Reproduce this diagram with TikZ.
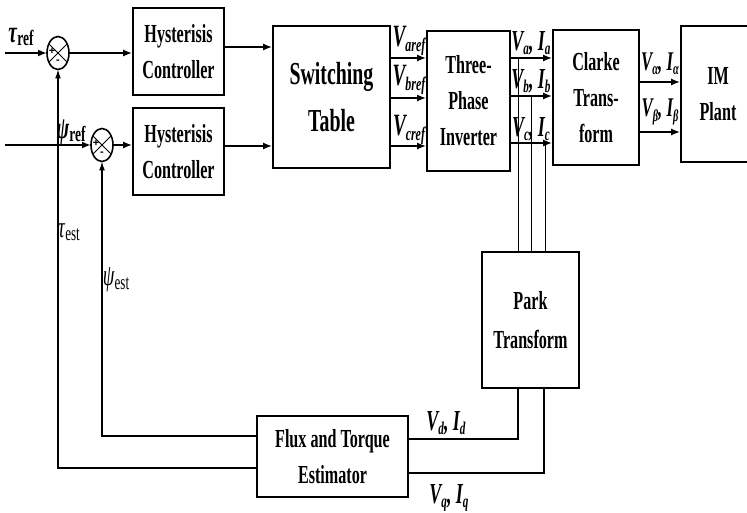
\documentclass[tikz,border=0pt]{standalone}
\usepackage{fontspec}
\usepackage{graphicx}
\setmainfont{Liberation Serif}[FakeStretch=0.62]
\newfontfamily\signfont{Liberation Sans}
\usetikzlibrary{arrows.meta,shapes.geometric}
\newcommand\lsub[1]{\raisebox{-0.35ex}{\scalebox{0.62}{#1}}}
\newcommand\rsub[1]{\raisebox{-0.25ex}{\scalebox{0.7}{#1}}}
\begin{document}
\begin{tikzpicture}[x=1pt,y=-1pt,
  blk/.style={draw,line width=1.6pt,align=center,font=\fontsize{26}{36}\selectfont\bfseries,inner sep=0pt},
  big/.style={font=\fontsize{32}{47}\selectfont\bfseries},
  sig/.style={line width=1.8pt,-{Latex[length=9pt,width=7pt]}},
  fbk/.style={line width=1.3pt},
  fbarr/.style={line width=1.3pt,-{Latex[length=9pt,width=6pt]}},
  tap/.style={line width=1pt},
  sumj/.style={draw,ellipse,line width=1.6pt,minimum width=22pt,minimum height=33pt,inner sep=0pt,outer sep=0pt},
  sgn/.style={font=\fontsize{11}{11}\selectfont\signfont\bfseries,inner sep=0pt},
  labA/.style={font=\fontsize{31}{31}\selectfont\bfseries\itshape,inner sep=0pt},
  labB/.style={font=\fontsize{29}{29}\selectfont\bfseries\itshape,inner sep=0pt},
  labG/.style={font=\fontsize{27}{27}\selectfont\bfseries\itshape,inner sep=0pt},
  gref/.style={font=\fontsize{31}{31}\selectfont\bfseries,inner sep=0pt},
  gest/.style={font=\fontsize{30}{30}\selectfont,inner sep=0pt},
]
\useasboundingbox (0,0) rectangle (747,513);
% blocks
\node[blk,minimum width=91pt,minimum height=87pt] (hc1) at (178.5,51.5) {Hysterisis\\Controller};
\node[blk,minimum width=91pt,minimum height=87pt] (hc2) at (178.5,151.5) {Hysterisis\\Controller};
\node[blk,big,minimum width=117pt,minimum height=142pt] (st) at (331.5,97) {Switching\\Table};
\node[blk,minimum width=83pt,minimum height=140pt] (inv) at (468.5,101) {Three-\\Phase\\Inverter};
\node[blk,minimum width=86pt,minimum height=135pt] (clk) at (596,97.5) {Clarke\\Trans-\\form};
\node[blk,minimum width=74pt,minimum height=136pt] (im) at (718,94) {IM\\Plant};
\node[blk,font=\fontsize{26}{39}\selectfont\bfseries,minimum width=97pt,minimum height=136pt] (park) at (530.5,320) {Park\\Transform};
\node[blk,minimum width=151pt,minimum height=81pt] (fte) at (332.5,456.5) {Flux and Torque\\Estimator};
% summing junctions
\node[sumj] (s1) at (58,53) {};
\node[sumj] (s2) at (102,145) {};
\draw[line width=1pt] (s1.45) -- (s1.225) (s1.135) -- (s1.315);
\draw[line width=1pt] (s2.45) -- (s2.225) (s2.135) -- (s2.315);
\node[sgn] (p1) at ([xshift=5pt,yshift=2pt]s1.west) {+};
\node[sgn] (m1) at ([yshift=8pt]s1.south) {-};
\node[sgn] (p2) at ([xshift=5pt,yshift=2pt]s2.west) {+};
\node[sgn] (m2) at ([yshift=8pt]s2.south) {-};
% inputs
\coordinate (tin) at (5,53);
\coordinate (pin) at (5,145);
\draw[sig] (tin) -- (s1.west);
\draw[sig] (pin) -- (s2.west);
\draw[sig] (s1.east) -- (s1.east -| hc1.west);
\draw[sig] (s2.east) -- (s2.east -| hc2.west);
\draw[sig] ([yshift=4.5pt]hc1.east) -- ([yshift=4.5pt]hc1.east -| st.west);
\draw[sig] ([yshift=5.5pt]hc2.east) -- ([yshift=5.5pt]hc2.east -| st.west);
% switching table to inverter
\coordinate (ya) at (0,58);
\coordinate (yb) at (0,98);
\coordinate (yc) at (0,146);
\draw[sig] (st.east |- ya) -- (inv.west |- ya);
\draw[sig] (st.east |- yb) -- (inv.west |- yb);
\draw[sig] (st.east |- yc) -- (inv.west |- yc);
% inverter to clarke
\coordinate (za) at (0,58);
\coordinate (zb) at (0,96);
\coordinate (zc) at (0,143);
\draw[sig] (inv.east |- za) -- (clk.west |- za);
\draw[sig] (inv.east |- zb) -- (clk.west |- zb);
\draw[sig] (inv.east |- zc) -- (clk.west |- zc);
% clarke to plant
\coordinate (wa) at (0,82);
\coordinate (wb) at (0,132);
\draw[sig] (clk.east |- wa) -- (im.west |- wa);
\draw[sig] (clk.east |- wb) -- (im.west |- wb);
% taps to park
\coordinate (ta) at (518,58);
\coordinate (tb) at (531,96);
\coordinate (tc) at (545,143);
\draw[tap] (ta) -- (ta |- park.north);
\draw[tap] (tb) -- (tb |- park.north);
\draw[tap] (tc) -- (tc |- park.north);
% park to estimator
\coordinate (pdx) at (518,0);
\coordinate (pqx) at (544,0);
\draw[fbk] (park.south -| pdx) |- ([yshift=17.5pt]fte.east);
\draw[fbk] (park.south -| pqx) |- ([yshift=-16.5pt]fte.east);
% feedback
\draw[fbarr] ([yshift=20.5pt]fte.west) -| (s2.south);
\draw[fbarr] ([yshift=-11.5pt]fte.west) -| (s1.south);
% labels
\node[gref] (ltr) at (21,37) {\textit{τ}\rsub{ref}};
\node[gref] (lpr) at (71,132) {\textit{ψ}\rsub{ref}};
\node[gest] (lte) at (69,232) {\textit{τ}\rsub{est}};
\node[gest] (lpe) at (116,280) {\textit{ψ}\rsub{est}};
\node[labA] (lva) at (409,41) {V\lsub{aref}};
\node[labA] (lvb) at (409,80) {V\lsub{bref}};
\node[labA] (lvc) at (409,130) {V\lsub{cref}};
\node[labB] (lia) at (531,43) {V\lsub{a}, I\lsub{a}};
\node[labB] (lib) at (531,81) {V\lsub{b}, I\lsub{b}};
\node[labB] (lic) at (531,129) {V\lsub{c}, I\lsub{c}};
\node[labG] (lal) at (660,64) {V\lsub{α}, I\lsub{α}};
\node[labG] (lbe) at (660,112) {V\lsub{β}, I\lsub{β}};
\node[labB] (ld) at (446,423) {V\lsub{d}, I\lsub{d}};
\node[labB] (lq) at (449,498) {V\lsub{q}, I\lsub{q}};
\end{tikzpicture}
\end{document}
